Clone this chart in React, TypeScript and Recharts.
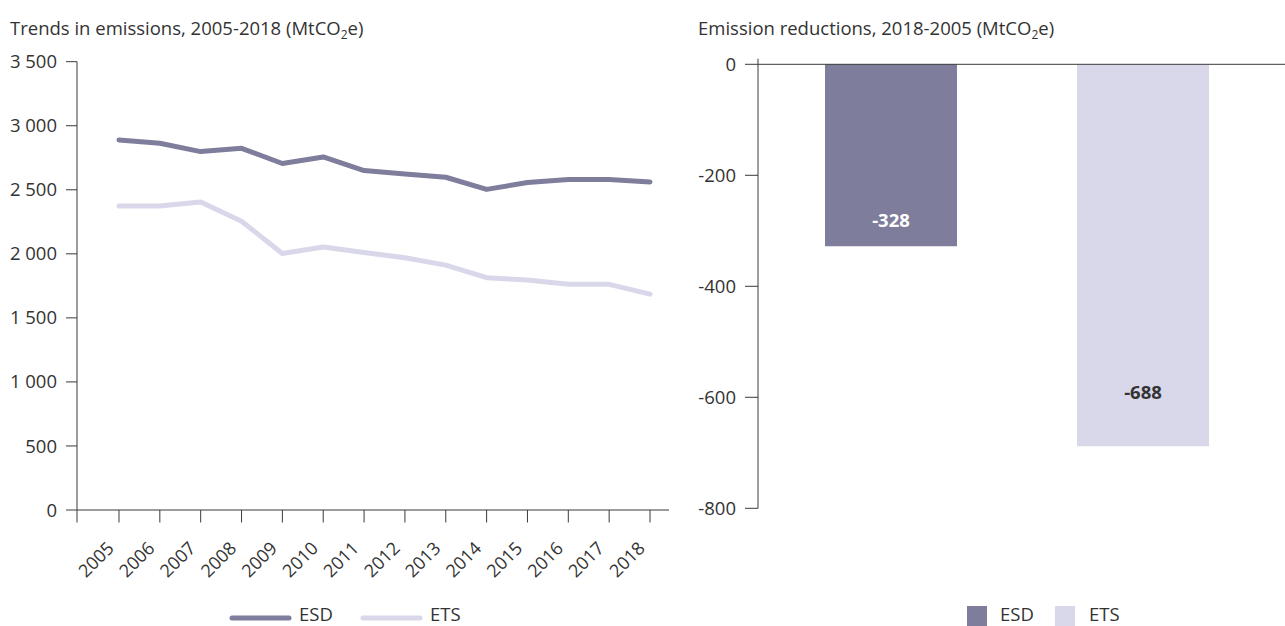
import React from "react";
import {
  LineChart,
  Line,
  BarChart,
  Bar,
  Cell,
  LabelList,
  XAxis,
  YAxis,
  ReferenceLine,
} from "recharts";

// Trends in emissions (MtCO2e)
const years = [2005, 2006, 2007, 2008, 2009, 2010, 2011, 2012, 2013, 2014, 2015, 2016, 2017, 2018];
const esdValues = [2889, 2863, 2798, 2824, 2705, 2756, 2650, 2624, 2598, 2503, 2557, 2580, 2580, 2561];
const etsValues = [2373, 2373, 2404, 2254, 2003, 2054, 2010, 1969, 1912, 1814, 1795, 1762, 1762, 1685];
const trendTicks = [0, 500, 1000, 1500, 2000, 2500, 3000, 3500];

// Emission reductions 2018-2005
const sectors = ["ESD", "ETS"];
const reductions = [-328, -688];
const reductionTicks = [-800, -600, -400, -200, 0];

const ESD_COLOR = "#7f7d9c";
const ETS_COLOR = "#d9d7ea";
const AXIS = "#3a3a3a";
const TEXT = "#333333";
const FONT = '"Open Sans", sans-serif';
const FS = 18.5;

const trendRows = years.map((year, i) => ({
  year,
  esd: esdValues[i],
  ets: etsValues[i],
}));

const reductionRows = sectors.map((name, i) => ({ name, value: reductions[i] }));

// x axis starts a bit before 2005 so the axis corner gets its own tick
const X_MIN = 2003.972;
const X_MAX = 2018.465;

const fmtThousands = (v: number) =>
  String(v).replace(/\B(?=(\d{3})+(?!\d))/g, " ");

function YearTick(props: any) {
  const { x, y, payload } = props;
  if (!Number.isInteger(payload.value)) return null;
  return (
    <g transform={`translate(${x - 4}, ${y + 27})`}>
      <text
        textAnchor="end"
        transform="rotate(-45)"
        fontSize={18}
        fontFamily={FONT}
        fill={TEXT}
      >
        {payload.value}
      </text>
    </g>
  );
}

function BarValueLabel(props: any) {
  const { x, y, width, height, value, index } = props;
  const top = Math.min(y, y + height);
  const h = Math.abs(height);
  return (
    <text
      x={x + width / 2}
      y={top + h * 0.86}
      dy="0.35em"
      textAnchor="middle"
      fontSize={FS}
      fontWeight={700}
      fontFamily={FONT}
      fill={index === 0 ? "#ffffff" : TEXT}
    >
      {value}
    </text>
  );
}

const tickStyle = { fontSize: FS, fontFamily: FONT, fill: TEXT };

export default function App() {
  return (
    <div
      style={{
        position: "absolute",
        left: 0,
        top: 0,
        width: 1285,
        height: 626,
        overflow: "hidden",
        background: "#fff",
        fontFamily: FONT,
      }}
    >
      <div style={{ position: "absolute", left: 0, top: 0 }}>
        <LineChart
          width={690}
          height={626}
          data={trendRows}
          margin={{ top: 61.7, right: 21, bottom: 56, left: 0 }}
        >
          <XAxis
            dataKey="year"
            type="number"
            domain={[X_MIN, X_MAX]}
            allowDataOverflow
            ticks={[X_MIN, ...years]}
            interval={0}
            height={60}
            tickSize={12.5}
            tickMargin={0}
            stroke={AXIS}
            tick={<YearTick />}
          />
          <YAxis
            type="number"
            domain={[0, 3500]}
            ticks={trendTicks}
            interval={0}
            width={77}
            tickSize={11}
            tickMargin={9}
            stroke={AXIS}
            tick={tickStyle}
            tickFormatter={fmtThousands}
          />
          <Line
            dataKey="esd"
            stroke={ESD_COLOR}
            strokeWidth={5}
            strokeLinecap="round"
            strokeLinejoin="round"
            dot={false}
            type="linear"
            isAnimationActive={false}
          />
          <Line
            dataKey="ets"
            stroke={ETS_COLOR}
            strokeWidth={5}
            strokeLinecap="round"
            strokeLinejoin="round"
            dot={false}
            type="linear"
            isAnimationActive={false}
          />
        </LineChart>
      </div>

      <div style={{ position: "absolute", left: 690, top: 0 }}>
        <BarChart
          width={595}
          height={626}
          data={reductionRows}
          margin={{ top: 58.75, right: 0, bottom: 117.7, left: 0 }}
        >
          <XAxis dataKey="name" hide padding={{ left: 7, right: 16 }} />
          <YAxis
            type="number"
            domain={[-800, 10]}
            ticks={reductionTicks}
            interval={0}
            width={68}
            tickSize={13}
            tickMargin={9}
            stroke={AXIS}
            tick={tickStyle}
          />
          <ReferenceLine y={0} stroke={AXIS} strokeWidth={1} />
          <Bar dataKey="value" barSize={132} isAnimationActive={false}>
            {reductionRows.map((r, i) => (
              <Cell key={r.name} fill={i === 0 ? ESD_COLOR : ETS_COLOR} />
            ))}
            <LabelList dataKey="value" content={<BarValueLabel />} />
          </Bar>
        </BarChart>
      </div>

      {/* titles and legends */}
      <svg
        width={1285}
        height={626}
        style={{ position: "absolute", left: 0, top: 0, pointerEvents: "none" }}
        fontFamily={FONT}
        fill={TEXT}
      >
        <text x={10} y={34.5} fontSize={FS}>
          Trends in emissions, 2005-2018 (MtCO
          <tspan fontSize={12} dy={4}>2</tspan>
          <tspan dy={-4}>e)</tspan>
        </text>
        <text x={698} y={34.5} fontSize={FS}>
          Emission reductions, 2018-2005 (MtCO
          <tspan fontSize={12} dy={4}>2</tspan>
          <tspan dy={-4}>e)</tspan>
        </text>

        <line x1={232} y1={618} x2={289} y2={618} stroke={ESD_COLOR} strokeWidth={5} strokeLinecap="round" />
        <text x={299} y={620.5} fontSize={FS}>ESD</text>
        <line x1={363} y1={618} x2={420} y2={618} stroke={ETS_COLOR} strokeWidth={5} strokeLinecap="round" />
        <text x={430} y={620.5} fontSize={FS}>ETS</text>

        <rect x={967} y={606} width={20} height={20} fill={ESD_COLOR} />
        <text x={1000} y={620.5} fontSize={FS}>ESD</text>
        <rect x={1055} y={606} width={20} height={20} fill={ETS_COLOR} />
        <text x={1089} y={620.5} fontSize={FS}>ETS</text>
      </svg>
    </div>
  );
}
